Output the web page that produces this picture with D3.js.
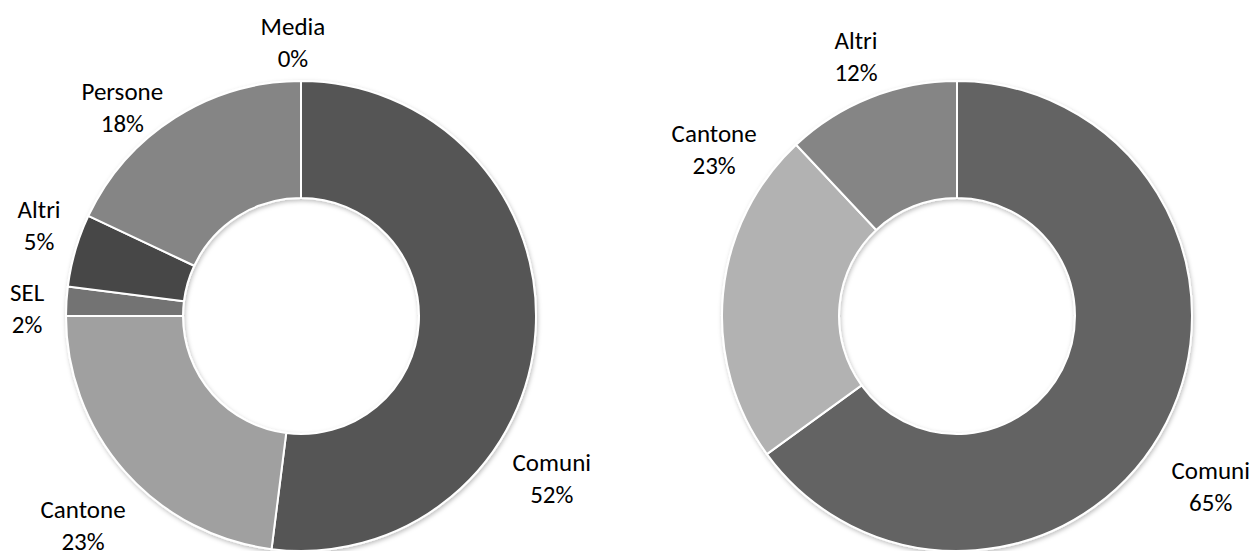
<!DOCTYPE html>
<html>
<head>
<meta charset="utf-8">
<script src="https://cdn.jsdelivr.net/npm/d3@7"></script>
<style>
    body { margin: 0; background: #fff; }
    text { font-family: Carlito, Calibri, Lato, "Open Sans", sans-serif; font-size: 25px; fill: #000; }
</style>
</head>
<body>
<svg id="chart" width="1254" height="551"></svg>
<script>
// left donut
var leftCategories = ["Comuni", "Cantone", "SEL", "Altri", "Persone", "Media"];
var leftValues = [52, 23, 2, 5, 18, 0];
var leftColors = ["#555555", "#a0a0a0", "#737373", "#474747", "#858585", "#4f4f4f"];

// right donut
var rightCategories = ["Comuni", "Cantone", "Altri"];
var rightValues = [65, 23, 12];
var rightColors = ["#636363", "#b2b2b2", "#858585"];

// label placement (angle clockwise from top in degrees, distance from centre)
var leftLabelPos = [[123, 299], [226, 303], [271.5, 274], [289, 277], [319.3, 274], [358.3, 273]];
var rightLabelPos = [[124, 306], [304.3, 294], [338.7, 278]];

var outerR = 235, innerR = 118, lineH = 32;

var svg = d3.select("#chart");

var defs = svg.append("defs");
defs.append("filter")
    .attr("id", "shadow")
    .attr("x", "-10%").attr("y", "-10%")
    .attr("width", "120%").attr("height", "120%")
    .append("feDropShadow")
    .attr("dx", 1).attr("dy", 2)
    .attr("stdDeviation", 2)
    .attr("flood-color", "#000")
    .attr("flood-opacity", 0.25);

function donut(cx, cy, categories, values, colors, labelPos) {
    var data = categories.map((c, i) => ({ name: c, value: values[i], color: colors[i], pos: labelPos[i] }));

    var pie = d3.pie()
        .sort(null)
        .value(d => d.value);

    var arc = d3.arc()
        .innerRadius(innerR)
        .outerRadius(outerR);

    var g = svg.append("g")
        .attr("transform", "translate(" + cx + "," + cy + ")");

    var total = d3.sum(values);
    var arcs = pie(data);

    g.append("g")
        .attr("filter", "url(#shadow)")
        .selectAll("path")
        .data(arcs)
        .enter().append("path")
        .attr("d", arc)
        .attr("fill", d => d.data.color)
        .attr("stroke", "#fff")
        .attr("stroke-width", 2)
        .attr("stroke-linejoin", "round");

    var labels = g.selectAll(".label")
        .data(arcs)
        .enter().append("text")
        .attr("class", "label")
        .attr("text-anchor", "middle")
        .attr("transform", function (d) {
            var a = d.data.pos[0] * Math.PI / 180, r = d.data.pos[1];
            return "translate(" + (Math.sin(a) * r) + "," + (-Math.cos(a) * r) + ")";
        });

    labels.append("tspan")
        .attr("x", 0)
        .attr("y", -lineH / 2 + 8)
        .text(d => d.data.name);

    labels.append("tspan")
        .attr("x", 0)
        .attr("y", lineH / 2 + 8)
        .text(d => Math.round(d.data.value / total * 100) + "%");
}

donut(301, 316, leftCategories, leftValues, leftColors, leftLabelPos);
donut(957, 316, rightCategories, rightValues, rightColors, rightLabelPos);
</script>
</body>
</html>
